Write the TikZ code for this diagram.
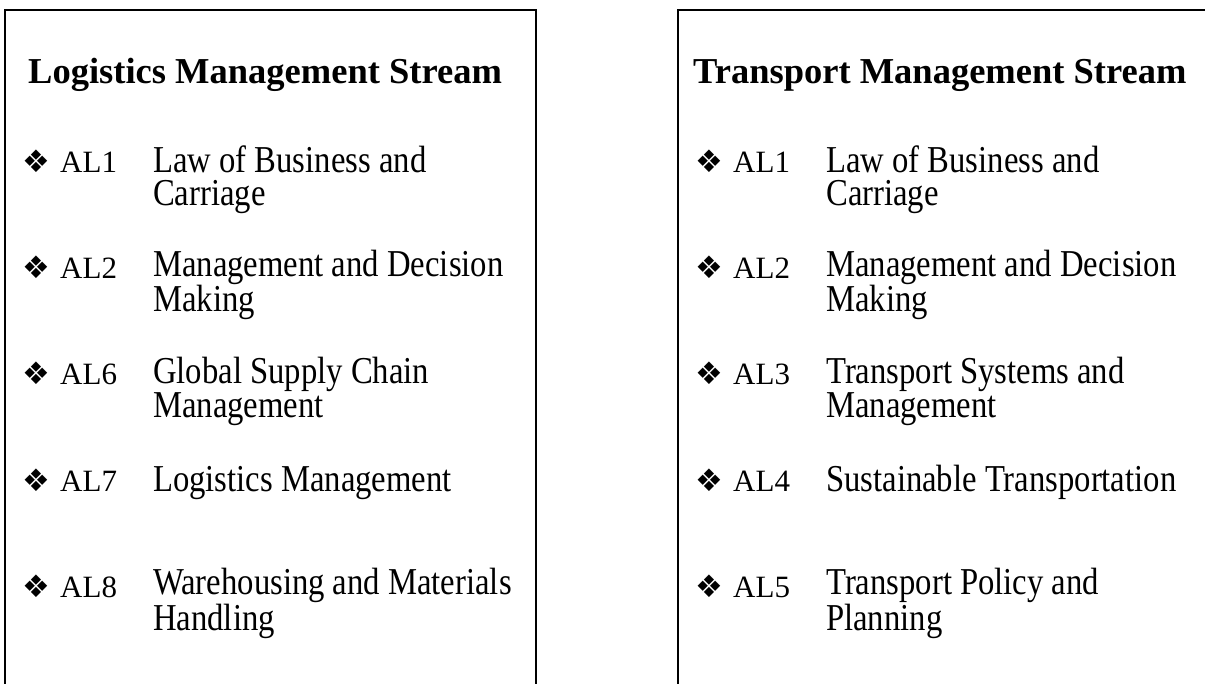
\documentclass[tikz,border=0pt]{standalone}
\usepackage{fontspec}
\setmainfont{Liberation Serif}
\newfontfamily\narrowserif[FakeStretch=0.86]{Liberation Serif}
\newfontfamily\dingfont{DejaVu Sans}
\usepackage{tikz}
\usetikzlibrary{positioning}

\tikzset{
	streamtitle/.style={anchor=base west, inner sep=0pt, font=\bfseries\fontsize{36.5}{40}\selectfont},
	bulletmark/.style={anchor=base west, inner sep=0pt, font=\dingfont\fontsize{31}{36}\selectfont},
	modcode/.style={anchor=base west, inner sep=0pt, font=\fontsize{31}{33}\selectfont},
	modname/.style={anchor=base west, inner sep=0pt, align=left, font=\narrowserif\fontsize{38}{33}\selectfont},
	framerule/.style={line width=1.5pt, line cap=rect},
}

\begin{document}
\begin{tikzpicture}[x=1pt, y=-1pt]

	\useasboundingbox (0,0) rectangle (1205,684);

	% Frame corners -- both boxes run off the bottom of the page,
	% the right one also off the right side
	\coordinate (LogBL) at (  5,684);
	\coordinate (LogTL) at (  5, 10);
	\coordinate (LogTR) at (536, 10);
	\coordinate (LogBR) at (536,684);
	\coordinate (TraBL) at (678,684);
	\coordinate (TraTL) at (678, 10);
	\coordinate (TraTR) at (1205,10);

	\draw[framerule] (LogBL) -- (LogTL) -- (LogTR) -- (LogBR);
	\draw[framerule] (TraBL) -- (TraTL) -- (TraTR);

	% NOTE: a two-line name sits on the baseline of its LAST line,
	%       so those nodes go 33 lower than the code beside them
	%%%%%%%%%%%%%%%%%%%%%%%%%%%%%%%%%%%%%%%%%%%%%%%%%%%%%%%%%%%%%%
	% Left box
	\node[streamtitle] (LogTitle) at (28,84) {Logistics Management Stream};

	\node[bulletmark] (LogB1) at ( 22,173) {❖};
	\node[modcode]    (LogC1) at ( 60,173) {AL1};
	\node[modname]    (LogN1) at (153,206) {Law of Business and\\Carriage};

	\node[bulletmark] (LogB2) at ( 22,279) {❖};
	\node[modcode]    (LogC2) at ( 60,279) {AL2};
	\node[modname]    (LogN2) at (153,312) {Management and Decision\\Making};

	\node[bulletmark] (LogB3) at ( 22,385) {❖};
	\node[modcode]    (LogC3) at ( 60,385) {AL6};
	\node[modname]    (LogN3) at (153,418) {Global Supply Chain\\Management};

	\node[bulletmark] (LogB4) at ( 22,491) {❖};
	\node[modcode]    (LogC4) at ( 60,491) {AL7};
	\node[modname]    (LogN4) at (153,491) {Logistics Management};

	\node[bulletmark] (LogB5) at ( 22,597) {❖};
	\node[modcode]    (LogC5) at ( 60,597) {AL8};
	\node[modname]    (LogN5) at (153,630) {Warehousing and Materials\\Handling};

	%%%%%%%%%%%%%%%%%%%%%%%%%%%%%%%%%%%%%%%%%%%%%%%%%%%%%%%%%%%%%%
	% Right box
	\node[streamtitle] (TraTitle) at (693,84) {Transport Management Stream};

	\node[bulletmark] (TraB1) at (695,173) {❖};
	\node[modcode]    (TraC1) at (733,173) {AL1};
	\node[modname]    (TraN1) at (826,206) {Law of Business and\\Carriage};

	\node[bulletmark] (TraB2) at (695,279) {❖};
	\node[modcode]    (TraC2) at (733,279) {AL2};
	\node[modname]    (TraN2) at (826,312) {Management and Decision\\Making};

	\node[bulletmark] (TraB3) at (695,385) {❖};
	\node[modcode]    (TraC3) at (733,385) {AL3};
	\node[modname]    (TraN3) at (826,418) {Transport Systems and\\Management};

	\node[bulletmark] (TraB4) at (695,491) {❖};
	\node[modcode]    (TraC4) at (733,491) {AL4};
	\node[modname]    (TraN4) at (826,491) {Sustainable Transportation};

	\node[bulletmark] (TraB5) at (695,597) {❖};
	\node[modcode]    (TraC5) at (733,597) {AL5};
	\node[modname]    (TraN5) at (826,630) {Transport Policy and\\Planning};

\end{tikzpicture}
\end{document}
